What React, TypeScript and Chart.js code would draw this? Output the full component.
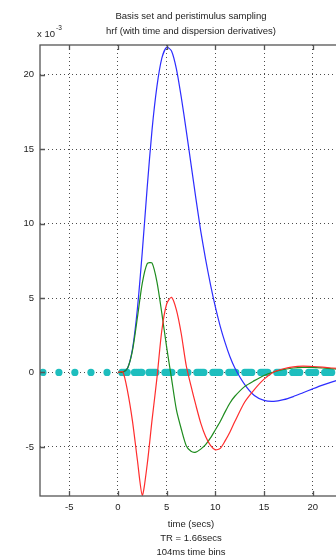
import React, { useEffect, useRef } from 'react';
import { Chart, registerables } from 'chart.js';

Chart.register(...registerables);

const TITLE_LINES = ['Basis set and peristimulus sampling', 'hrf (with time and dispersion derivatives)'];
const X_LABEL_LINES = ['time (secs)', 'TR = 1.66secs', '104ms time bins'];
const X_TICKS = [-5, 0, 5, 10, 15, 20];
const Y_TICKS = [-5, 0, 5, 10, 15, 20];

// peristimulus time (secs)
const TIME = [
  0, 0.5, 1, 1.5, 2, 2.5, 3, 3.5, 4, 4.5, 5, 5.5, 6, 6.5, 7, 7.5, 8, 8.5, 9, 9.5,
  10, 10.5, 11, 11.5, 12, 13, 14, 15, 16, 17, 18, 19, 20, 21, 22, 23, 24,
];
// canonical hrf (x 10^-3)
const CANONICAL = [
  0, 0.02, 0.3, 1.6, 4.3, 8.1, 12.4, 16.3, 19.2, 21.1, 21.85, 21.6, 20.4, 18.5, 16.3, 14.0, 11.7, 9.5, 7.6, 5.9,
  4.4, 3.1, 2.0, 1.05, 0.3, -0.8, -1.55, -1.88, -1.94, -1.83, -1.62, -1.36, -1.1, -0.85, -0.63, -0.45, -0.31,
];
// temporal derivative
const TIME_DERIV = [
  0, 0.02, 0.3, 1.5, 3.7, 6.0, 7.3, 7.35, 6.1, 4.0, 1.7, -0.4, -2.5, -3.8, -4.9, -5.3, -5.35, -5.15, -4.85, -4.4,
  -3.85, -3.3, -2.65, -2.05, -1.6, -0.95, -0.55, -0.2, 0.03, 0.2, 0.3, 0.34, 0.34, 0.3, 0.25, 0.2, 0.15,
];
// dispersion derivative
const DISP_DERIV = [
  0, 0.05, -1.3, -3.3, -5.9, -8.25, -6.2, -3.2, -0.4, 2.8, 4.6, 5.05, 4.2, 2.6, 0.5, -0.9, -2.2, -3.4, -4.3, -4.9,
  -5.2, -5.1, -4.6, -4.0, -3.3, -2.0, -1.15, -0.45, 0.03, 0.25, 0.38, 0.42, 0.4, 0.36, 0.3, 0.24, 0.18,
];
// peristimulus sampling times (secs)
const SAMPLE_TIMES = [
  -7.7, -6.06, -4.42, -2.77, -1.12,
  0.4, 0.6, 0.8, 0.95,
  1.7, 1.9, 2.1, 2.3, 2.45,
  3.18, 3.36, 3.54, 3.72, 3.9,
  4.82, 5.0, 5.18, 5.36, 5.54,
  6.46, 6.64, 6.82, 7.0, 7.18,
  8.1, 8.28, 8.46, 8.64, 8.82,
  9.74, 9.92, 10.1, 10.28, 10.46,
  11.38, 11.56, 11.74, 11.92, 12.1,
  13.02, 13.2, 13.38, 13.56, 13.74,
  14.66, 14.84, 15.02, 15.2, 15.38,
  16.3, 16.48, 16.66, 16.84, 17.02,
  17.94, 18.12, 18.3, 18.48, 18.66,
  19.58, 19.76, 19.94, 20.12, 20.3,
  21.22, 21.4, 21.58, 21.76, 21.94,
  22.86, 23.04, 23.22,
];
const SAMPLE_LEVEL = 0;

const FONT = "'Liberation Sans', Arial, sans-serif";
const FONT_SIZE = 9.5;
const TEXT_COLOR = '#222';
const FRAME_COLOR = '#555';

const framePlugin = {
  id: 'matlabFrame',
  afterDraw(chart: any) {
    const { ctx, chartArea: a, scales } = chart;
    ctx.save();
    ctx.strokeStyle = FRAME_COLOR;
    ctx.lineWidth = 1.3;
    ctx.strokeRect(a.left, a.top, a.right - a.left, a.bottom - a.top);
    ctx.beginPath();
    for (const v of X_TICKS) {
      const x = Math.round(scales.x.getPixelForValue(v)) + 0.5;
      ctx.moveTo(x, a.bottom);
      ctx.lineTo(x, a.bottom - 5);
      ctx.moveTo(x, a.top);
      ctx.lineTo(x, a.top + 5);
    }
    for (const v of Y_TICKS) {
      const y = Math.round(scales.y.getPixelForValue(v)) + 0.5;
      ctx.moveTo(a.left, y);
      ctx.lineTo(a.left + 5, y);
      ctx.moveTo(a.right, y);
      ctx.lineTo(a.right - 5, y);
    }
    ctx.stroke();
    ctx.fillStyle = TEXT_COLOR;
    ctx.textAlign = 'left';
    ctx.textBaseline = 'middle';
    ctx.font = `${FONT_SIZE}px ${FONT}`;
    ctx.fillText('x 10', 37, 34);
    ctx.font = `6.5px ${FONT}`;
    ctx.fillText('-3', 56, 28);
    ctx.restore();
  },
};

export default function App() {
  const ref = useRef<HTMLCanvasElement | null>(null);

  useEffect(() => {
    if (!ref.current) return;
    const line = (vals: number[], color: string) => ({
      data: vals.map((v, i) => ({ x: TIME[i], y: v })),
      showLine: true,
      borderColor: color,
      backgroundColor: color,
      borderWidth: 1.2,
      pointRadius: 0,
      tension: 0.25,
      fill: false,
    });
    const gridCommon = {
      color: 'rgba(0,0,0,0.7)',
      lineWidth: 1,
      drawTicks: false,
    };
    const chart = new Chart(ref.current, {
      type: 'scatter',
      data: {
        datasets: [
          line(DISP_DERIV, 'rgb(255,45,45)'),
          line(TIME_DERIV, 'rgb(30,140,30)'),
          line(CANONICAL, 'rgb(45,45,255)'),
          {
            data: SAMPLE_TIMES.map((t) => ({ x: t, y: SAMPLE_LEVEL })),
            showLine: false,
            pointRadius: 3.6,
            pointBorderWidth: 0,
            backgroundColor: 'rgb(30,190,190)',
            borderColor: 'rgb(30,190,190)',
          } as any,
        ],
      },
      options: {
        responsive: false,
        animation: false,
        devicePixelRatio: 1,
        layout: { padding: { left: 0, right: 10, top: 0, bottom: 0 } },
        plugins: {
          legend: { display: false },
          tooltip: { enabled: false },
          title: {
            display: true,
            text: TITLE_LINES,
            fullSize: false,
            color: TEXT_COLOR,
            font: { family: FONT, size: FONT_SIZE, weight: 'normal', lineHeight: 15 / FONT_SIZE },
            padding: { top: 9, bottom: 6 },
          },
        },
        scales: {
          x: {
            type: 'linear',
            min: -8,
            max: 23,
            afterBuildTicks: (s: any) => {
              s.ticks = X_TICKS.map((v) => ({ value: v }));
            },
            afterFit: (s: any) => {
              s.height = 59;
            },
            ticks: {
              color: TEXT_COLOR,
              font: { family: FONT, size: FONT_SIZE },
              padding: 6,
              maxRotation: 0,
              autoSkip: false,
            },
            grid: gridCommon,
            border: { display: false, dash: [1, 3] },
            title: {
              display: true,
              text: X_LABEL_LINES,
              color: TEXT_COLOR,
              font: { family: FONT, size: FONT_SIZE, lineHeight: 14 / FONT_SIZE },
              padding: { top: 0, bottom: -4 },
            },
          },
          y: {
            type: 'linear',
            min: -8.3,
            max: 22,
            afterBuildTicks: (s: any) => {
              s.ticks = Y_TICKS.map((v) => ({ value: v }));
            },
            afterFit: (s: any) => {
              s.width = 40;
            },
            ticks: {
              color: TEXT_COLOR,
              font: { family: FONT, size: FONT_SIZE },
              padding: 6,
              autoSkip: false,
            },
            grid: gridCommon,
            border: { display: false, dash: [1, 3] },
          },
        },
      } as any,
      plugins: [framePlugin],
    });
    return () => chart.destroy();
  }, []);

  return (
    <div
      style={{
        position: 'fixed',
        left: 0,
        top: 0,
        width: 336,
        height: 555,
        overflow: 'hidden',
        background: '#fff',
      }}
    >
      <canvas ref={ref} width={352} height={555} style={{ display: 'block', width: 352, height: 555 }} />
    </div>
  );
}
